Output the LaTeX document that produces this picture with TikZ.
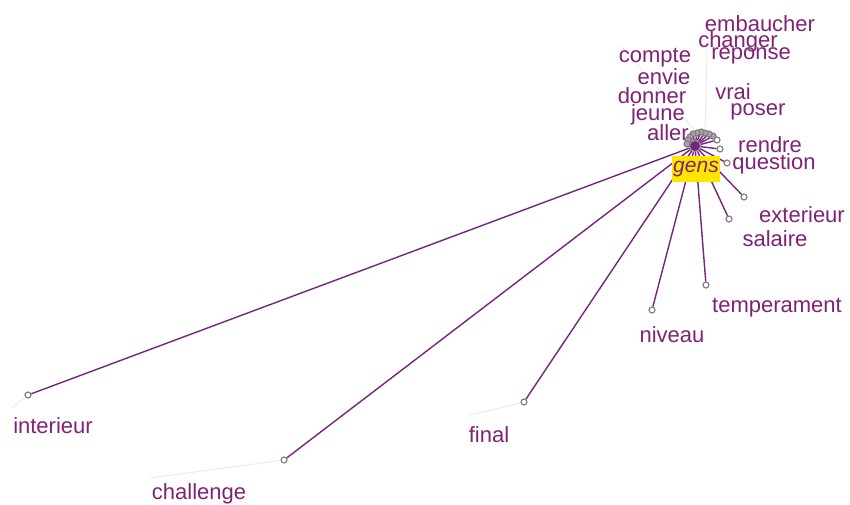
\documentclass[tikz,border=0pt]{standalone}
\usepackage{fontspec}
\setmainfont{Liberation Sans}
\definecolor{edgec}{RGB}{118,36,128}
\definecolor{textc}{RGB}{128,34,118}
\definecolor{gensy}{RGB}{255,230,0}
\tikzset{
  edge/.style={draw=edgec, line width=1.4pt},
  faint/.style={draw=black!8, line width=1pt},
  leaf/.style={circle, draw=black!50, fill=white, line width=1.2pt, inner sep=0pt, minimum size=6pt},
  cleaf/.style={circle, draw=black!50, fill=black!35, line width=1.2pt, inner sep=0pt, minimum size=6pt},
  lbl/.style={text=textc, font=\fontsize{22}{22}\selectfont, inner sep=0pt, anchor=center},
  hubdot/.style={circle, fill=edgec, draw=black!45, line width=1pt, inner sep=0pt, minimum size=11pt},
  gensbox/.style={fill=gensy, text=textc, font=\fontsize{21}{21}\selectfont\itshape, inner sep=0pt, minimum width=48pt, minimum height=26pt}
}
\begin{document}
\begin{tikzpicture}[x=1pt,y=-1pt]
\useasboundingbox (0,0) rectangle (850,505);
% leaves
\node[leaf] (interieur) at (28,395) {};
\node[leaf] (challenge) at (284,460) {};
\node[leaf] (final) at (524,402) {};
\node[leaf] (niveau) at (652,310) {};
\node[leaf] (temperament) at (706,285) {};
\node[leaf] (salaire) at (729,219) {};
\node[leaf] (exterieur) at (744,197) {};
\node[leaf] (question) at (727,163) {};
\node[leaf] (rendre) at (720,149) {};
\node[leaf] (poser) at (717,140) {};
\node[cleaf] (vrai) at (713,136) {};
\node[cleaf] (reponse) at (709,134) {};
\node[cleaf] (changer) at (705,133) {};
\node[cleaf] (embaucher) at (701,132) {};
\node[cleaf] (compte) at (697,133) {};
\node[cleaf] (envie) at (693,134) {};
\node[cleaf] (donner) at (690,137) {};
\node[cleaf] (jeune) at (688,140) {};
\node[cleaf] (aller) at (687,144) {};
% faint label connectors
\coordinate (Finterieur) at (12,408);
\coordinate (Fchallenge) at (150,478);
\coordinate (Ffinal) at (470,415);
\coordinate (Fup) at (707,50);
\coordinate (Fleft) at (622,47);
\coordinate (Fq) at (733,157);
\draw[faint] (interieur) -- (Finterieur);
\draw[faint] (challenge) -- (Fchallenge);
\draw[faint] (final) -- (Ffinal);
\draw[faint] (changer) -- (Fup);
\draw[faint] (compte) -- (Fleft);
\draw[faint] (question) -- (Fq);
% labels
\node[lbl] (Linterieur) at (53,426) {interieur};
\node[lbl] (Lchallenge) at (199,494) {challenge};
\node[lbl] (Lfinal) at (489,435) {final};
\node[lbl] (Lniveau) at (672,335) {niveau};
\node[lbl] (Ltemperament) at (777,308) {temperament};
\node[lbl] (Lsalaire) at (775,239) {salaire};
\node[lbl] (Lexterieur) at (802,215) {exterieur};
\node[lbl] (Lquestion) at (774,164) {question};
\node[lbl] (Lrendre) at (770,145) {rendre};
\node[lbl] (Lposer) at (758,112) {poser};
\node[lbl] (Lvrai) at (733,92) {vrai};
\node[lbl] (Lreponse) at (751,56) {reponse};
\node[lbl] (Lchanger) at (738,42) {changer};
\node[lbl] (Lembaucher) at (760,24) {embaucher};
\node[lbl] (Lcompte) at (655,58) {compte};
\node[lbl] (Lenvie) at (664,77) {envie};
\node[lbl] (Ldonner) at (652,96) {donner};
\node[lbl] (Ljeune) at (658,115) {jeune};
\node[lbl] (Laller) at (668,133) {aller};
% hub
\node[hubdot] (hub) at (695,146) {};
% edges
\foreach \n in {interieur,challenge,final,niveau,temperament,salaire,exterieur,question,rendre,poser,vrai,reponse,changer,embaucher,compte,envie,donner,jeune,aller}
  \draw[edge] (hub) -- (\n);
\node[hubdot] at (hub) {};
\node[gensbox] (gens) at (696,169) {gens};
\end{tikzpicture}
\end{document}
